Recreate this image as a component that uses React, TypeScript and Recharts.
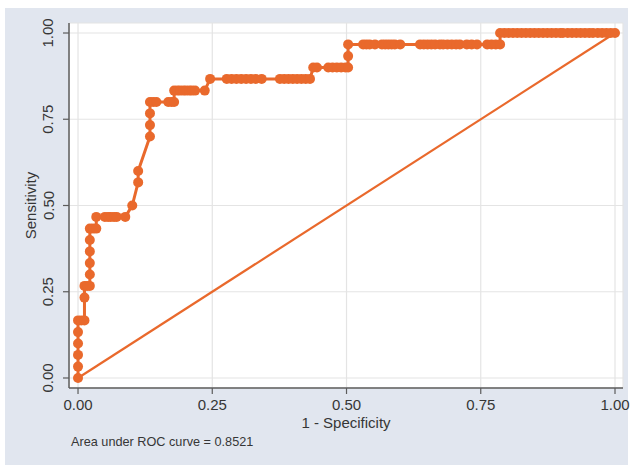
import { ComposedChart, Line, XAxis, YAxis, CartesianGrid } from "recharts";

const ORANGE = "#e9692c";
const BG = "#e1e6ef";
const AXIS = "#5c5c5c";
const TEXT = "#363636";
const FONT = "'Liberation Sans', Arial, sans-serif";

const xTicks = [0, 0.25, 0.5, 0.75, 1];
const yTicks = [0, 0.25, 0.5, 0.75, 1];

// ROC curve: 1 - specificity / sensitivity
const fpr = [
  0, 0, 0, 0, 0, 0,
  0.006, 0.012, 0.012, 0.012, 0.017, 0.022,
  0.022, 0.022, 0.022, 0.022, 0.022, 0.028, 0.034,
  0.034, 0.05, 0.056, 0.061, 0.067, 0.072, 0.088,
  0.101, 0.112, 0.112, 0.134, 0.134, 0.134, 0.134, 0.14, 0.146,
  0.168, 0.174, 0.179, 0.179, 0.185, 0.19, 0.196, 0.201, 0.207, 0.212, 0.218, 0.236,
  0.246, 0.277, 0.286, 0.295, 0.304, 0.313, 0.322, 0.331, 0.342,
  0.376, 0.384, 0.392, 0.4, 0.408, 0.416, 0.424, 0.432,
  0.438, 0.445, 0.466, 0.474, 0.482, 0.49, 0.498, 0.503,
  0.503, 0.503, 0.531, 0.537, 0.543, 0.553,
  0.566, 0.572, 0.578, 0.584, 0.59, 0.6,
  0.637, 0.644, 0.651, 0.658, 0.665, 0.674, 0.68, 0.688, 0.696, 0.704, 0.711,
  0.724, 0.733, 0.743, 0.762, 0.77, 0.778, 0.786,
  0.786, 0.794, 0.802, 0.81, 0.818, 0.826, 0.834, 0.842, 0.85, 0.858, 0.866, 0.874, 0.882, 0.89, 0.898, 0.903,
  0.912, 0.92, 0.928, 0.936, 0.944, 0.952, 0.959, 0.968, 0.976, 0.984, 0.992, 1,
];

const tpr = [
  0, 0.033, 0.067, 0.1, 0.133, 0.167,
  0.167, 0.167, 0.233, 0.267, 0.267, 0.267,
  0.3, 0.333, 0.367, 0.4, 0.433, 0.433, 0.433,
  0.467, 0.467, 0.467, 0.467, 0.467, 0.467, 0.467,
  0.5, 0.567, 0.6, 0.7, 0.733, 0.767, 0.8, 0.8, 0.8,
  0.8, 0.8, 0.8, 0.833, 0.833, 0.833, 0.833, 0.833, 0.833, 0.833, 0.833, 0.833,
  0.867, 0.867, 0.867, 0.867, 0.867, 0.867, 0.867, 0.867, 0.867,
  0.867, 0.867, 0.867, 0.867, 0.867, 0.867, 0.867, 0.867,
  0.9, 0.9, 0.9, 0.9, 0.9, 0.9, 0.9, 0.9,
  0.933, 0.967, 0.967, 0.967, 0.967, 0.967,
  0.967, 0.967, 0.967, 0.967, 0.967, 0.967,
  0.967, 0.967, 0.967, 0.967, 0.967, 0.967, 0.967, 0.967, 0.967, 0.967, 0.967,
  0.967, 0.967, 0.967, 0.967, 0.967, 0.967, 0.967,
  1, 1, 1, 1, 1, 1, 1, 1, 1, 1, 1, 1, 1, 1, 1, 1,
  1, 1, 1, 1, 1, 1, 1, 1, 1, 1, 1, 1,
];

// reference (chance) line
const diagX = [0, 1];
const diagY = [0, 1];

const rocData = fpr.map((x, i) => ({ x, y: tpr[i] }));
const diagData = diagX.map((x, i) => ({ x, y: diagY[i] }));

const XTick = (props: any) => {
  const { x, y, payload } = props;
  return (
    <text x={x} y={y + 8} textAnchor="middle" dominantBaseline="central" fontSize={15} fill={TEXT} fontFamily={FONT}>
      {Number(payload.value).toFixed(2)}
    </text>
  );
};

const YTick = (props: any) => {
  const { x, y, payload } = props;
  const cx = x - 13;
  return (
    <text
      x={cx}
      y={y}
      transform={`rotate(-90, ${cx}, ${y})`}
      textAnchor="middle"
      dominantBaseline="central"
      fontSize={15}
      fill={TEXT}
      fontFamily={FONT}
    >
      {Number(payload.value).toFixed(2)}
    </text>
  );
};

const XTitle = (props: any) => {
  const vb = props.viewBox || { x: 69, y: 388, width: 554, height: 77 };
  return (
    <text x={vb.x + vb.width / 2} y={vb.y + 34} textAnchor="middle" dominantBaseline="central" fontSize={15} fill={TEXT} fontFamily={FONT}>
      1 - Specificity
    </text>
  );
};

const YTitle = (props: any) => {
  const vb = props.viewBox || { x: 0, y: 23, width: 69, height: 365 };
  const cx = vb.x + 30;
  const cy = vb.y + vb.height / 2;
  return (
    <text x={cx} y={cy} transform={`rotate(-90, ${cx}, ${cy})`} textAnchor="middle" dominantBaseline="central" fontSize={15} fill={TEXT} fontFamily={FONT}>
      Sensitivity
    </text>
  );
};

export default function App() {
  return (
    <div style={{ position: "absolute", left: 0, top: 0, width: 633, height: 465, background: "#fff", fontFamily: FONT }}>
      <div style={{ position: "absolute", left: 5, top: 8, width: 623, height: 457, background: BG }} />
      <div style={{ position: "absolute", left: 0, top: 0 }}>
        <ComposedChart width={633} height={465} margin={{ top: 23, right: 10, bottom: 0, left: 0 }}>
          <CartesianGrid fill="#fff" stroke="#e4e4e4" strokeWidth={1.2} />
          <XAxis
            type="number"
            dataKey="x"
            domain={[-0.0168, 1.0149]}
            ticks={xTicks}
            allowDataOverflow
            height={77}
            axisLine={{ stroke: AXIS, strokeWidth: 1.5 }}
            tickLine={{ stroke: AXIS, strokeWidth: 1.2 }}
            tickSize={6}
            tick={<XTick />}
            label={<XTitle />}
          />
          <YAxis
            type="number"
            dataKey="y"
            domain={[-0.029, 1.029]}
            ticks={yTicks}
            allowDataOverflow
            width={69}
            axisLine={{ stroke: AXIS, strokeWidth: 1.5 }}
            tickLine={{ stroke: AXIS, strokeWidth: 1.2 }}
            tickSize={6}
            tick={<YTick />}
            label={<YTitle />}
          />
          <Line
            data={diagData}
            dataKey="y"
            type="linear"
            stroke={ORANGE}
            strokeWidth={2.2}
            dot={false}
            isAnimationActive={false}
          />
          <Line
            data={rocData}
            dataKey="y"
            type="linear"
            stroke={ORANGE}
            strokeWidth={3}
            dot={{ r: 5, fill: ORANGE, stroke: ORANGE, strokeWidth: 0 }}
            isAnimationActive={false}
          />
        </ComposedChart>
      </div>
      <div style={{ position: "absolute", left: 71, top: 434, fontSize: 12.7, color: TEXT, lineHeight: "16px" }}>
        Area under ROC curve = 0.8521
      </div>
    </div>
  );
}
